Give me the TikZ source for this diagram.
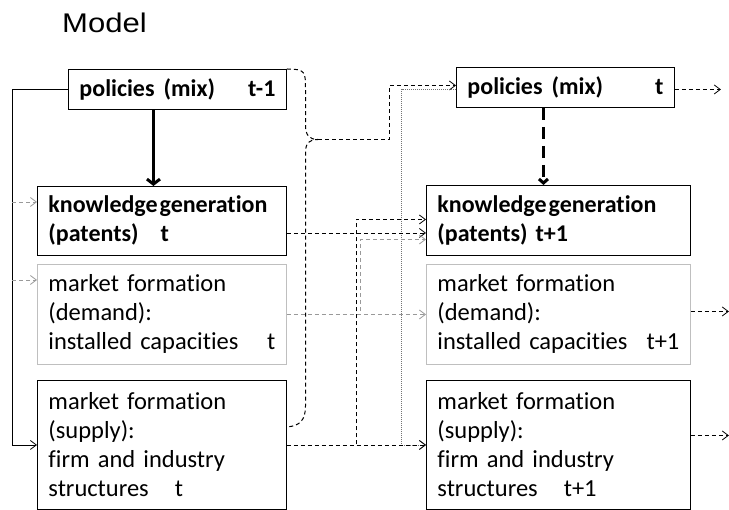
\documentclass[tikz,border=0pt]{standalone}
\usepackage{fontspec}
\setmainfont{Carlito}[Ligatures=NoCommon, WordSpace=0.6]
\newfontfamily\titlefont{Liberation Sans}
\usetikzlibrary{arrows.meta,calc}
\hyphenpenalty=10000
\begin{document}
\begin{tikzpicture}[x=1pt,y=-1pt,
  box/.style={draw=black, line width=0.9pt, anchor=north west, inner xsep=11pt, inner ysep=0pt, align=left, font=\fontsize{24.5}{29}\selectfont},
  graybox/.style={box, draw=black!25},
  bbox/.style={box, font=\fontsize{24}{29}\selectfont\bfseries},
  tipo/.style={-{Straight Barb[length=6pt,width=9pt]}},
  conn/.style={line width=0.8pt, tipo},
  dconn/.style={conn, dash pattern=on 4pt off 3pt},
  dline/.style={line width=1pt, dash pattern=on 4pt off 3pt},
  gconn/.style={conn, draw=black!40, dash pattern=on 4pt off 3pt},
  dotconn/.style={conn, draw=black!55, dash pattern=on 1pt off 1pt},
  thickconn/.style={line width=3pt, -{Straight Barb[length=5pt,width=13pt]}},
  thickdash/.style={line width=3pt, dash pattern=on 12pt off 7pt, -{Straight Barb[length=4pt,width=9pt]}}
]
\useasboundingbox (0,0) rectangle (729,510);

\node[font=\titlefont\fontsize{27}{30}\selectfont, anchor=base west, inner sep=0pt] (title) at (62,33) {\scalebox{1.15}[1]{Model}};

\node[bbox, text width=196pt, minimum height=40pt] (p1) at (68,69) {policies\hspace{9pt}(mix)\hfill t-1\hspace*{3pt}};
\node[bbox, text width=196pt, minimum height=40pt] (p2) at (456,67) {policies\hspace{9pt}(mix)\hfill t\hspace*{5pt}};

\node[bbox, text width=227pt, minimum height=69pt] (k1) at (37,186) {\mbox{knowledge\hspace{2pt}generation}\\(patents)\hspace{22pt}t};
\node[bbox, text width=242pt, minimum height=70pt] (k2) at (426,185) {\mbox{knowledge\hspace{2pt}generation}\\(patents) t+1};

\node[graybox, text width=227pt, minimum height=100pt] (d1) at (37,264) {market formation\\(demand):\\installed capacities\hfill t\hspace*{4pt}};
\node[graybox, text width=242pt, minimum height=100pt] (d2) at (426,264) {market formation\\(demand):\\installed capacities\hfill t+1\hspace*{7pt}};

\node[box, text width=227pt, minimum height=129pt] (s1) at (37,380) {market formation\\(supply):\\firm and industry\\structures\hspace{26pt}t};
\node[box, text width=242pt, minimum height=129pt] (s2) at (426,380) {market formation\\(supply):\\firm and industry\\structures\hspace{26pt}t+1};

% left feedback line
\draw[conn] (p1.west) -- ++(-56,0) |- (s1.west);
\draw[gconn] ([shift={(-25pt,-16pt)}]k1.north west) -- ([yshift=-16pt]k1.north west);
\draw[gconn] ([shift={(-25pt,-16pt)}]d1.north west) -- ([yshift=-16pt]d1.north west);

% policy -> knowledge
\draw[thickconn] ([xshift=-24pt]p1.south) -- ([xshift=-24pt]p1.south |- k1.north);
\draw[thickdash] ([xshift=-22pt]p2.south) -- ([xshift=-22pt]p2.south |- k2.north);

% brace
\coordinate (bt) at (318,139.5);
\draw[dline] (p1.north east) .. controls (305.5,69) and (305.5,72) .. (305.5,89) -- (305.5,125)
  .. controls (305.5,135) and (309,139.5) .. (bt)
  .. controls (309,139.5) and (305.5,143) .. (305.5,153) -- (305.5,406)
  .. controls (305.5,420) and (300,426) .. ([yshift=18pt]s1.east);
\draw[dconn] (bt) -- (389.5,139.5) |- ([yshift=2pt]p2.west);
\draw[dotconn] ([yshift=-2pt]p2.west) -| (401.5,300) |- (s2.west);

% t -> t+1 links
\draw[dconn] ([yshift=-12pt]k1.east) -- ([yshift=-12pt]k1.east -| k2.west);
\draw[dconn] (s1.east) -- ++(69.5,0) |- ([yshift=1pt]k2.west);
\draw[dconn] (s1.east) -- (s2.west);
\draw[gconn] (d1.east) -- (d2.west);
\draw[gconn] (d1.east) -- ++(73.5,0) |- ([yshift=-19pt]k2.west);

% outgoing
\draw[dconn] ([yshift=-2pt]p2.east) -- ++(46,0);
\draw[dconn] ([yshift=3pt]d2.east) -- ++(38,0);
\draw[dconn] ([yshift=9.5pt]s2.east) -- ++(38,0);
\end{tikzpicture}
\end{document}
